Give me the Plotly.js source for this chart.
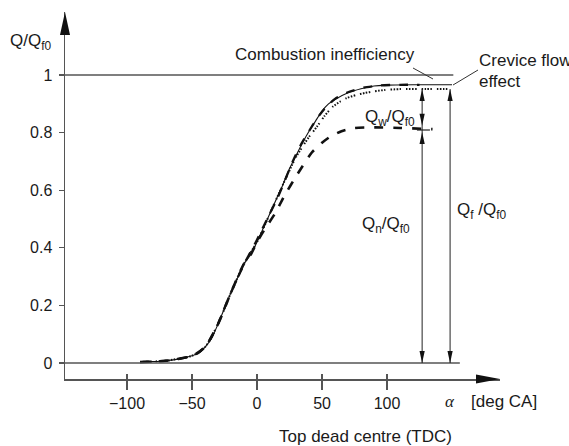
<!DOCTYPE html>
<html><head><meta charset="utf-8">
<script src="https://cdn.plot.ly/plotly-3.0.1.min.js"></script>
<style>html,body{margin:0;padding:0;background:#fff}#chart{width:569px;height:446px}</style>
</head><body><div id="chart"></div>
<script>
// ---- data (crank angle in deg CA, normalised heat release Q/Qf0) ----
const grossX = [-90,-80,-70,-60,-50,-44,-40,-35,-30,-25,-20,-15,-10,-5,0,5,10,15,20,25,30,35,40,45,50,55,60,70,80,90,100,120,150];
const grossY = [0.003,0.005,0.008,0.014,0.025,0.037,0.055,0.085,0.135,0.19,0.245,0.295,0.345,0.375,0.42,0.47,0.52,0.57,0.62,0.675,0.72,0.765,0.805,0.84,0.875,0.9,0.915,0.938,0.952,0.962,0.965,0.966,0.966];
const heavyX = [-88,-75,-62,-52,-45,-38,-32,-26,-20,-14,-8,-2,4,10,16,22,28,34,40,46,52,60,70,82,95,110,125];
const heavyY = [0.004,0.006,0.012,0.022,0.035,0.068,0.115,0.18,0.245,0.305,0.36,0.41,0.465,0.52,0.575,0.64,0.705,0.76,0.805,0.848,0.883,0.917,0.94,0.956,0.964,0.966,0.966];
const dottedX = [-90,-70,-50,-40,-30,-20,-10,0,10,20,30,40,46,52,58,64,69,76,83,90,98,110,130,150];
const dottedY = [0.003,0.008,0.025,0.055,0.135,0.245,0.345,0.42,0.52,0.62,0.715,0.785,0.82,0.858,0.889,0.908,0.92,0.93,0.9375,0.943,0.948,0.951,0.951,0.951];
const netX = [-90,-70,-50,-40,-30,-20,-10,-5,0,6,14,21,31,42,50,56,65,75,90,110,135];
const netY = [0.003,0.008,0.025,0.055,0.135,0.245,0.345,0.375,0.42,0.465,0.52,0.58,0.655,0.73,0.765,0.785,0.805,0.816,0.818,0.816,0.812];
const xTickVals = [-100,-50,0,50,100];
const xTickText = ['\u2212100','\u221250','0','50','100'];
const yTickVals = [0,0.2,0.4,0.6,0.8,1];
const yTickText = ['0','0.2','0.4','0.6','0.8','1'];
// reference levels / positions of the brackets
const levelTop = 0.951, levelNet = 0.812, levelFuel = 1;
const arrowNetX = 127, arrowFuelX = 148.5;
const topLineEnd = 151, zeroLineEnd = 156;

// ---- geometry ----
const L=65, R=500, T=12, B=379;
const xr=[-147.7,186.9], yr=[-0.0556,1.21875];
const pX = px => (px-L)/(R-L);
const pY = py => (B-py)/(B-T);
const FONT = 'Liberation Sans, Arial, Helvetica, sans-serif';
const TXT = '#1a1a1a', AX = '#555';

const curve = (x,y,w,dash,col) => ({x:x,y:y,type:'scatter',mode:'lines',hoverinfo:'skip',
  line:{color:col||'#111',width:w,dash:dash,shape:'spline',smoothing:0.6}});
const data = [
  curve(grossX,grossY,1.1,'solid'),
  curve(heavyX,heavyY,2.3,'9px,9px'),
  curve(dottedX,dottedY,2,'1.5px,1.5px,1.5px,1.5px,1.5px,1.5px,1.5px,5px'),
  curve(netX,netY,2.6,'9px,10px'),
  {x:[xTickVals[0]],y:[null],xaxis:'x2',type:'scatter',mode:'lines',hoverinfo:'skip'}
];

const line = (x0,y0,x1,y1,ref,col,w) => ({type:'line',xref:ref==='p'?'paper':'x',yref:ref==='p'?'paper':'y',
  x0:x0,y0:y0,x1:x1,y1:y1,line:{color:col,width:w}});
const head = (xa,ya,path,ref) => ({type:'path',xref:ref==='p'?'paper':'x',yref:ref==='p'?'paper':'y',
  xsizemode:'pixel',ysizemode:'pixel',xanchor:xa,yanchor:ya,path:path,fillcolor:'#111',line:{width:0}});
const UP='M0,0 L-2.6,-12 L2.6,-12 Z', DOWN='M0,0 L-2.6,12 L2.6,12 Z';
const shapes = [
  line(xr[0],levelFuel,topLineEnd,levelFuel,'d',AX,1.3),
  line(xr[0],0,zeroLineEnd,0,'d',AX,1.3),
  line(arrowNetX,levelTop,arrowNetX,0,'d','#222',1),
  line(arrowFuelX,levelTop,arrowFuelX,0,'d','#222',1),
  line(arrowNetX-4,levelNet-0.003,arrowNetX+6,levelNet-0.003,'d','#222',1.2),
  head(arrowNetX,levelTop,UP),
  head(arrowNetX,levelNet+0.012,DOWN),
  head(arrowNetX,levelNet-0.01,UP),
  head(arrowNetX,0,DOWN),
  head(arrowFuelX,levelTop,UP),
  head(arrowFuelX,0,DOWN),
  line(pX(413),pY(68),pX(433),pY(79),'p','#333',1),
  line(pX(478),pY(70),pX(453),pY(85),'p','#333',1),
  head(0,1,'M0,0 L-5,-23 L5,-23 Z','p'),
  head(1,0,'M0,0 L-24,4.5 L-24,-4.5 Z','p')
];

const ann = (text,px,py,xanchor,size,fam) => ({text:text,xref:'paper',yref:'paper',x:pX(px),y:pY(py),
  xanchor:xanchor,yanchor:'middle',showarrow:false,font:{family:fam||FONT,size:size||17,color:TXT}});
const annotations = [
  ann('Combustion inefficiency',233,55,'left'),
  ann('Crevice flow',477,61,'left'),
  ann('effect',477,81,'left'),
  ann('Q<sub>w</sub>/Q<sub>f0</sub>',363,118,'left'),
  ann('Q<sub>n</sub>/Q<sub>f0</sub>',360,225,'left'),
  ann('Q<sub>f</sub> /Q<sub>f0</sub>',455,211,'left'),
  ann('Q/Q<sub>f0</sub>',8,42,'left'),
  ann('<i>α</i>',450,401,'center',17,'Liberation Serif, Times New Roman, serif'),
  ann('[deg CA]',469,401,'left'),
  ann('Top dead centre (TDC)',365,436,'center')
];

const layout = {
  width:569,height:446,margin:{l:L,r:569-R,t:T,b:446-B,pad:0},
  paper_bgcolor:'#fff',plot_bgcolor:'#fff',showlegend:false,
  font:{family:FONT,color:TXT},
  xaxis:{range:xr,showline:true,linecolor:AX,linewidth:1.5,ticks:'outside',ticklen:9,tickwidth:1.2,tickcolor:AX,
    tickvals:xTickVals,ticktext:xTickText,showgrid:false,zeroline:false,tickfont:{size:16,color:TXT},fixedrange:true},
  xaxis2:{range:xr,overlaying:'x',anchor:'y',side:'bottom',ticks:'inside',ticklen:5,tickwidth:1.2,tickcolor:AX,
    tickvals:xTickVals,showticklabels:false,showgrid:false,zeroline:false,showline:false},
  yaxis:{range:yr,showline:true,linecolor:AX,linewidth:1.5,ticks:'outside',ticklen:5,tickwidth:1.2,tickcolor:AX,
    tickvals:yTickVals,ticktext:yTickText,showgrid:false,zeroline:false,tickfont:{size:16,color:TXT},
    ticklabelstandoff:3,fixedrange:true},
  shapes:shapes,annotations:annotations
};
Plotly.newPlot('chart',data,layout,{staticPlot:true,displayModeBar:false});
</script></body></html>
